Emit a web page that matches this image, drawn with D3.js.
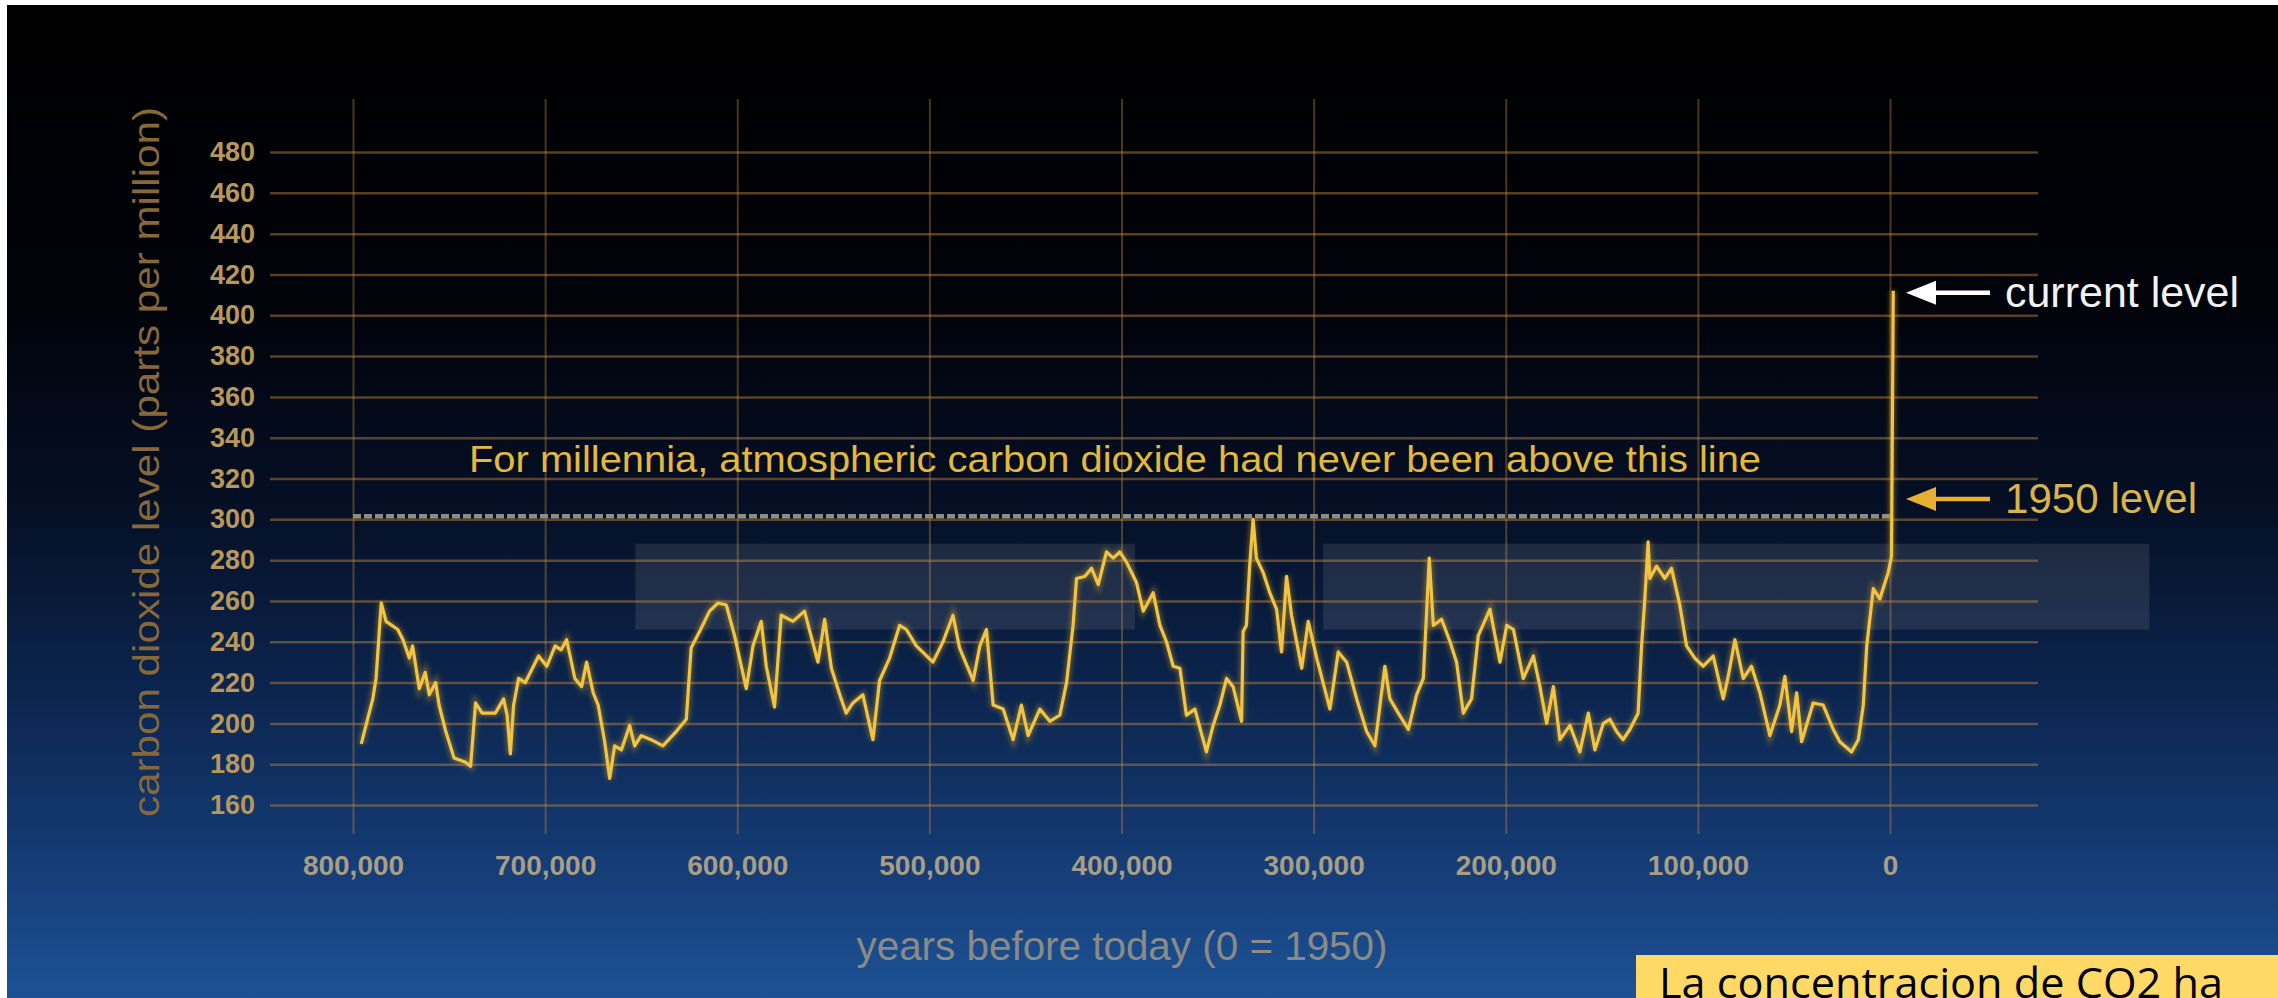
<!DOCTYPE html>
<html>
<head>
<meta charset="utf-8">
<script src="https://cdn.jsdelivr.net/npm/d3@7"></script>
<style>
  body { margin: 0; background: #fff; overflow: hidden; }
  svg { display: block; }
</style>
</head>
<body>
<svg id="chart"></svg>
<script>
// ---- data (thousands of years before 1950, ppm) ----
const yearsAgo = [795.7,789.7,788,785.3,782.8,776.7,774,770.7,769,765.5,762.4,760.3,757,755.2,751.7,747.4,741.4,738.8,736.2,732.8,
  725.9,721.6,719.8,718.1,716.4,713.8,710.3,703.4,699.1,694.8,691.7,688.8,684.5,681,678.4,675,672.4,669,666.4,663.8,
  660.3,656,653.4,650,644.8,638.7,631.8,626.5,624,619.6,614.4,610,605.7,601.4,595.3,591.8,587.5,584.9,580.6,577.1,
  571,565,558,554.5,551,545.9,543.3,539.8,534.6,529.4,525.9,520.7,515.5,512,506.8,498.1,492.9,487.7,484.3,477.2,
  473.7,470.3,466.8,461.6,456.4,452.1,448.6,442.5,437.3,432.1,428.6,425.2,423.4,419.1,415.6,412.1,407.8,404.3,400.9,397.4,
  392.2,388.7,383.5,380,376.6,373.1,369.6,366.2,361.8,355.8,352.3,348.8,345.3,341.9,337.5,336.7,335,333.3,331.5,329.8,
  326.3,322.8,319.3,316.7,314.1,311.5,306.2,302.8,298.4,291.5,287.2,282.8,277.6,272.4,268.1,262.9,260.3,255.9,250.7,246.4,
  242.9,239.8,237.7,233.4,229,225.6,222.1,217.8,214.3,208.2,203,199.5,196,190.9,185.6,182.2,178.7,175.2,171.8,166.6,
  161.4,157,153.6,149.2,145.8,142.3,138.9,135.4,131.1,129.3,127.6,125.9,125,121.5,117.2,113.7,109.4,105.9,101.6,97.2,
  92,86.8,84.2,80.7,76.4,72.1,67.7,62.5,57.3,54.7,51.2,48.6,46,40,34.8,29.5,26.1,20,16.5,13.9,
  12.1,8.7,5.3,0.9,-0.8,-1.7]
const co2ppm = [190,212,222,259,250,246,241,232,238,217,225,214,220,209,196,183,181,179,210,205,
  205,212,204,185,209,222,220,233,228,238,236,241,222,218,230,215,209,191,173,189,
  187,199,189,194,192,189,196,202,237,245,255,259,258,243,217,238,250,228,208,253,
  250,255,230,251,227,212,205,210,214,192,221,232,248,246,238,230,240,253,237,221,
  238,246,209,207,192,209,194,207,201,204,220,248,271,272,276,268,284,281,284,279,
  269,255,264,248,240,228,227,204,207,186,199,209,222,218,201,245,248,277,300,281,
  274,264,256,235,272,253,227,250,232,207,235,230,212,196,189,228,212,205,197,214,
  222,281,248,251,240,230,205,212,243,256,230,248,246,222,233,218,200,218,192,199,
  186,205,187,200,202,196,192,197,205,238,261,289,271,277,271,276,258,238,232,228,
  233,212,223,241,222,228,215,194,209,223,196,215,191,210,209,197,191,186,192,209,
  238,266,261,274,282,412]

const xTicks = [800, 700, 600, 500, 400, 300, 200, 100, 0]
const yTicks = [160, 180, 200, 220, 240, 260, 280, 300, 320, 340, 360, 380, 400, 420, 440, 460, 480]
const neverAbove = 301.5
const level1950 = 310
const currentLevel = 411
const greyBands = [[653, 393], [295, -135]]
const bandPpm = [246, 288]

const W = 2278, H = 998
const svg = d3.select('#chart').attr('width', W).attr('height', H)

const x = d3.scaleLinear().domain([800, 0]).range([353, 1890])
const y = d3.scaleLinear().domain([160, 480]).range([805, 152])

// background
const defs = svg.append('defs')
const grad = defs.append('linearGradient').attr('id', 'bg').attr('x1', 0).attr('y1', 0).attr('x2', 0).attr('y2', 1)
grad.selectAll('stop')
  .data([[0, '#000000'], [0.3, '#01030a'], [0.5, '#050f24'], [0.7, '#0c2650'], [0.85, '#143a72'], [1, '#1d5295']])
  .enter().append('stop')
  .attr('offset', d => d[0]).attr('stop-color', d => d[1])
const glow = defs.append('filter').attr('id', 'glow').attr('x', '-5%').attr('y', '-5%').attr('width', '110%').attr('height', '110%')
glow.append('feGaussianBlur').attr('stdDeviation', 2.5)

svg.append('rect').attr('width', W).attr('height', H).attr('fill', '#ffffff')
svg.append('rect').attr('x', 7).attr('y', 5).attr('width', W - 7).attr('height', H - 5).attr('fill', 'url(#bg)')

// vertical grid via bottom axis
const xAxis = svg.append('g')
  .attr('transform', `translate(0,834)`)
  .call(d3.axisBottom(x).tickValues(xTicks).tickSize(-(834 - 99)).tickFormat(d => d3.format(',')(d * 1000)))
xAxis.select('.domain').remove()
xAxis.selectAll('line').attr('stroke', 'rgb(190,135,60)').attr('stroke-opacity', 0.4).attr('stroke-width', 2)
xAxis.selectAll('text')
  .attr('y', 31).attr('dy', '0.35em')
  .attr('fill', '#a89e86')
  .style('font-family', '"Liberation Sans", Arial, sans-serif')
  .style('font-weight', 'bold')
  .style('font-size', '28px')

// horizontal grid via left axis
const yAxis = svg.append('g')
  .attr('transform', 'translate(270,0)')
  .call(d3.axisLeft(y).tickValues(yTicks).tickSize(-(2038 - 270)).tickPadding(15))
yAxis.select('.domain').remove()
yAxis.selectAll('line').attr('stroke', 'rgb(200,138,60)').attr('stroke-opacity', 0.45).attr('stroke-width', 2.5)
yAxis.selectAll('text')
  .attr('fill', '#b8975c')
  .style('font-family', '"Liberation Sans", Arial, sans-serif')
  .style('font-weight', 'bold')
  .style('font-size', '27px')

// grey highlight bands
svg.append('g').selectAll('rect')
  .data(greyBands).enter().append('rect')
  .attr('x', d => x(d[0]))
  .attr('width', d => x(d[1]) - x(d[0]))
  .attr('y', y(bandPpm[1]))
  .attr('height', y(bandPpm[0]) - y(bandPpm[1]))
  .attr('fill', 'rgb(160,160,170)')
  .attr('fill-opacity', 0.16)

// "never above" dashed line
svg.append('line')
  .attr('x1', x(800)).attr('x2', x(0))
  .attr('y1', y(neverAbove)).attr('y2', y(neverAbove))
  .attr('stroke', '#8f8e84').attr('stroke-width', 4.5)
  .attr('stroke-dasharray', '8,3')

svg.append('text')
  .attr('x', 469).attr('y', y(neverAbove) - 44)
  .attr('fill', '#e2b93c')
  .attr('textLength', 1292).attr('lengthAdjust', 'spacingAndGlyphs')
  .style('font-family', '"Liberation Sans", Arial, sans-serif')
  .style('font-size', '37px')
  .text('For millennia, atmospheric carbon dioxide had never been above this line')

// co2 line
const points = yearsAgo.map((d, i) => [d, co2ppm[i]])
const line = d3.line().x(d => x(d[0])).y(d => y(d[1]))
svg.append('path').datum(points)
  .attr('d', line).attr('fill', 'none')
  .attr('stroke', '#d9a520').attr('stroke-width', 6).attr('stroke-opacity', 0.45)
  .attr('filter', 'url(#glow)')
svg.append('path').datum(points)
  .attr('d', line).attr('fill', 'none')
  .attr('stroke', '#f0c445').attr('stroke-width', 3.2)
  .attr('stroke-linejoin', 'round')

// right-hand arrows
function arrow(ppm, color, label, labelColor, len) {
  const yy = y(ppm)
  const g = svg.append('g')
  g.append('line').attr('x1', 1930).attr('x2', 1990).attr('y1', yy).attr('y2', yy)
    .attr('stroke', color).attr('stroke-width', 4.5)
  g.append('path')
    .attr('d', `M1906,${yy} L1936,${yy - 12} L1936,${yy + 12} Z`)
    .attr('fill', color)
  g.append('text')
    .attr('x', 2005).attr('y', yy + 14)
    .attr('fill', labelColor)
    .attr('textLength', len).attr('lengthAdjust', 'spacingAndGlyphs')
    .style('font-family', '"Liberation Sans", Arial, sans-serif')
    .style('font-size', '42px')
    .text(label)
}
arrow(currentLevel, '#ffffff', 'current level', '#f2f2f2', 234)
arrow(level1950, '#e8b032', '1950 level', '#d8b44a', 192)

// axis titles
svg.append('text')
  .attr('transform', `translate(159,${(107 + 817) / 2}) rotate(-90)`)
  .attr('text-anchor', 'middle')
  .attr('fill', '#86683a')
  .attr('textLength', 710).attr('lengthAdjust', 'spacingAndGlyphs')
  .style('font-family', '"Liberation Sans", Arial, sans-serif')
  .style('font-size', '37px')
  .text('carbon dioxide level (parts per million)')

svg.append('text')
  .attr('x', 1122).attr('y', 960)
  .attr('text-anchor', 'middle')
  .attr('fill', '#8a8b86')
  .attr('textLength', 531).attr('lengthAdjust', 'spacingAndGlyphs')
  .style('font-family', '"Liberation Sans", Arial, sans-serif')
  .style('font-size', '40px')
  .text('years before today (0 = 1950)')

// yellow note box (the slide cuts it at the bottom edge)
svg.append('rect').attr('x', 1636).attr('y', 955).attr('width', W - 1636).attr('height', H - 955).attr('fill', '#ffd966')
svg.append('text')
  .attr('x', 1659).attr('y', 998)
  .attr('fill', '#000')
  .attr('textLength', 564).attr('lengthAdjust', 'spacingAndGlyphs')
  .style('font-family', '"Open Sans", "Noto Sans", sans-serif')
  .style('font-size', '42px')
  .text('La concentracion de CO2 ha')
</script>
</body>
</html>
